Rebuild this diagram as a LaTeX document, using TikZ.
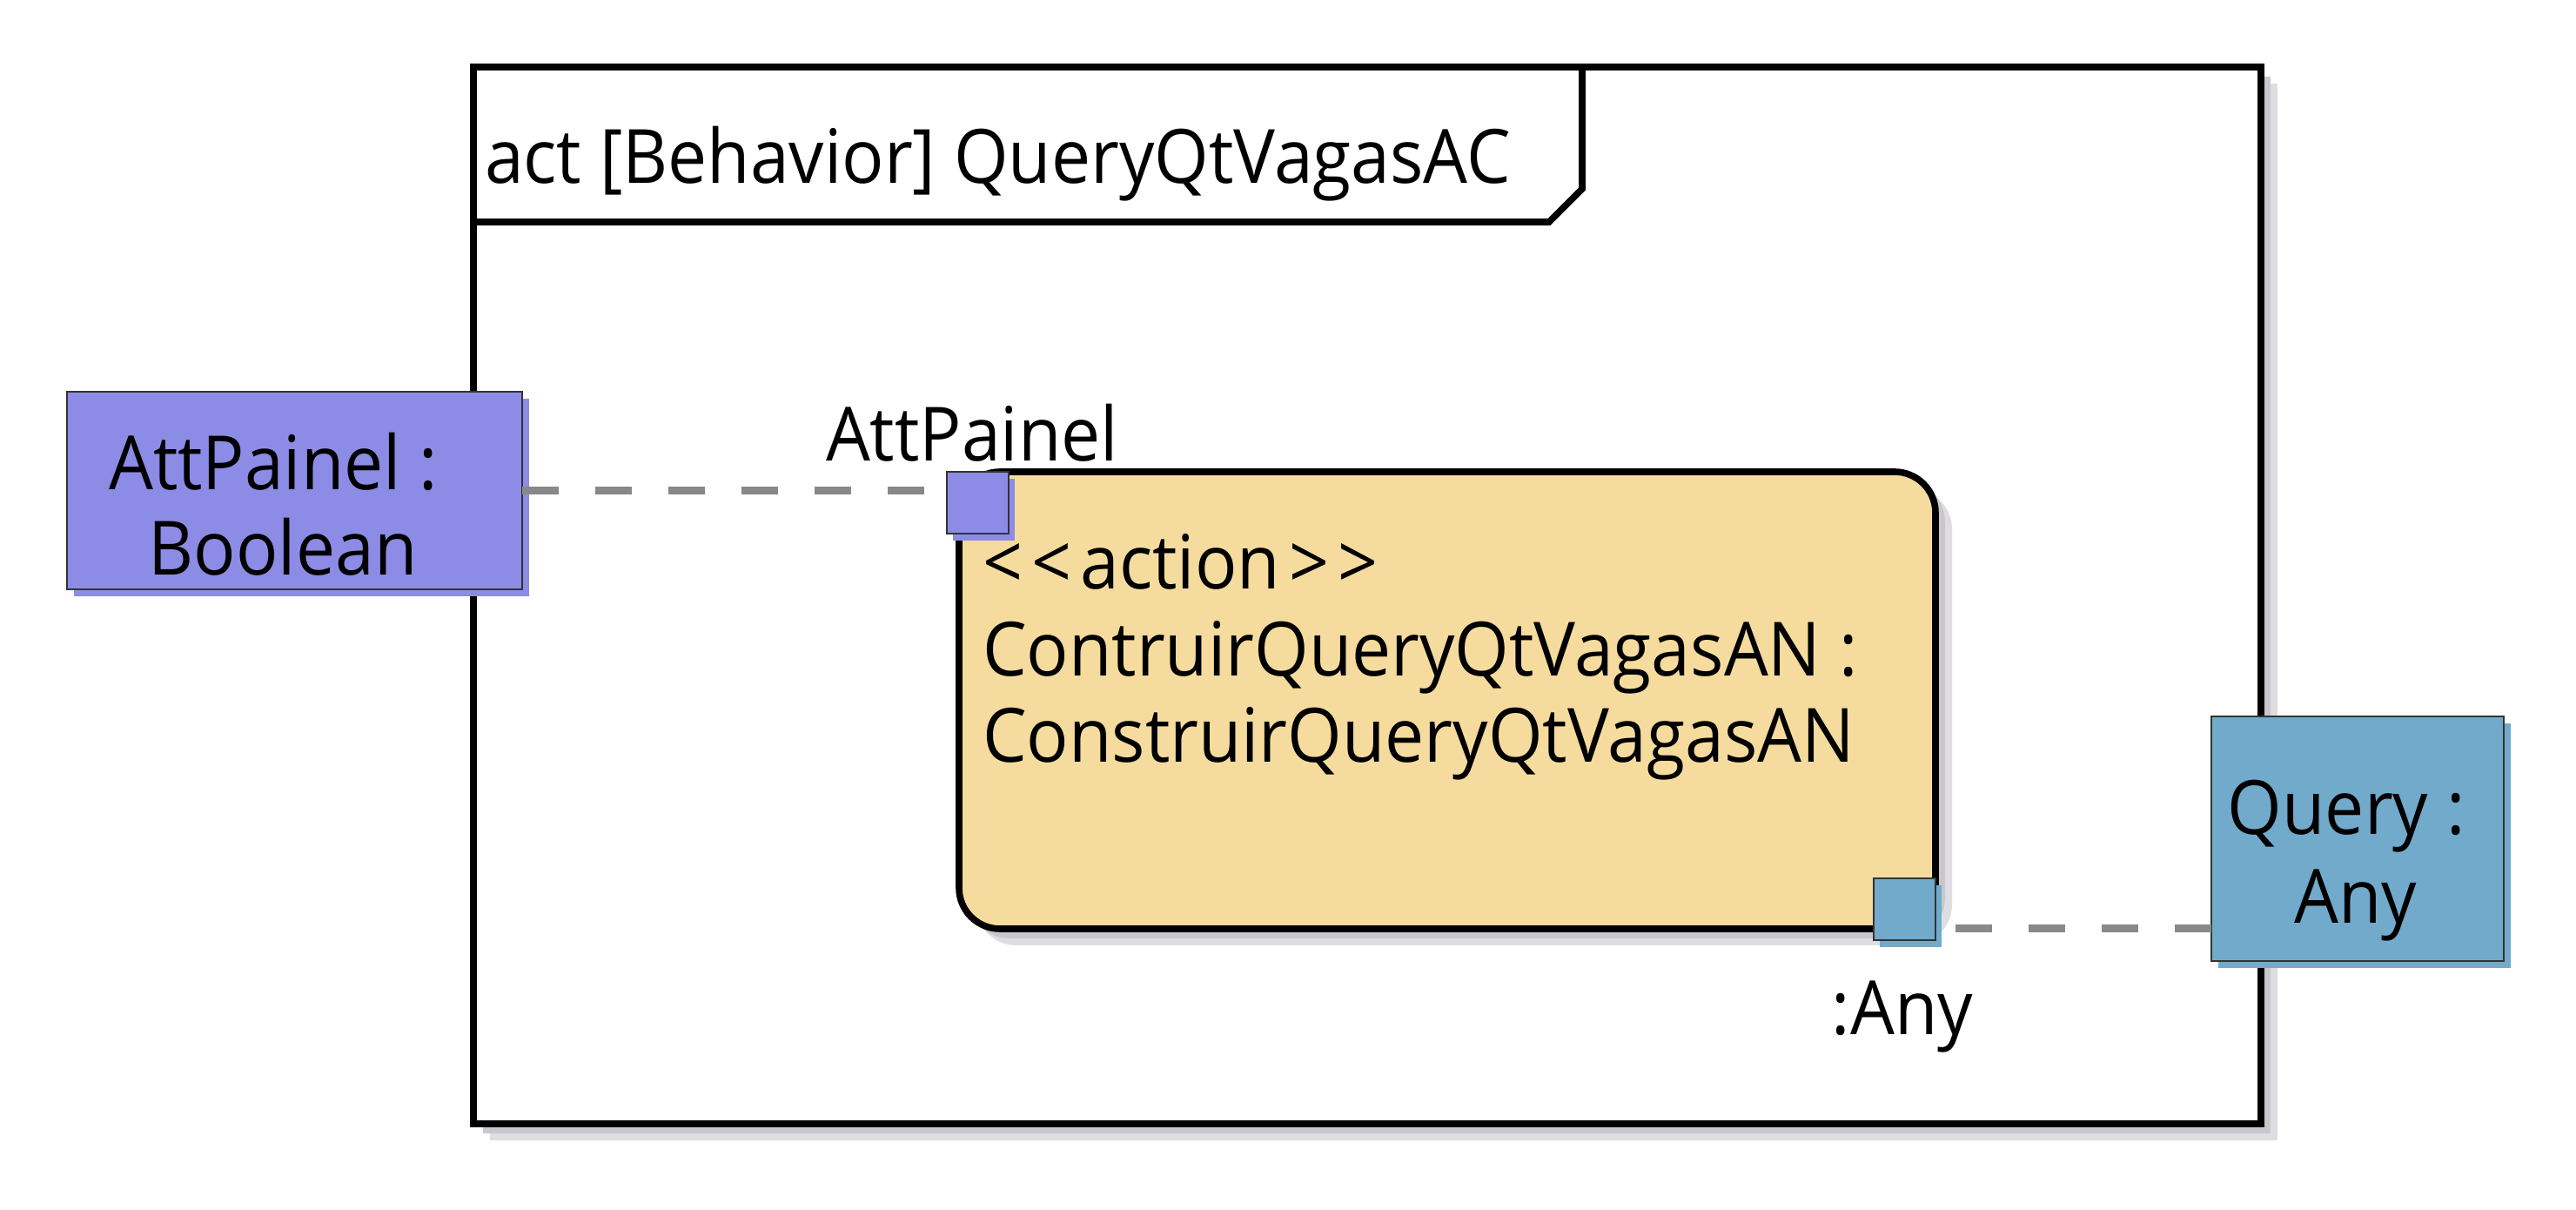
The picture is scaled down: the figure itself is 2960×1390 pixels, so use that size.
\documentclass[tikz,border=0pt]{standalone}
\usepackage{fontspec}
\setmainfont{Open Sans}[FakeStretch=0.935]
\usetikzlibrary{shadows}
\definecolor{pinpurple}{HTML}{8C8CE6}
\definecolor{pinblue}{HTML}{72AACB}
\definecolor{actfill}{HTML}{F5DC9E}
\definecolor{shadowdark}{HTML}{C9C7CD}
\definecolor{shadowlight}{HTML}{DFDDE1}
\definecolor{dashgray}{HTML}{888888}
\definecolor{edgedark}{HTML}{333333}
\newcommand\myLT{\char"3C\relax}
\newcommand\myGT{\char"3E\relax}
\tikzset{
  softshadow/.style={
    general shadow={shadow xshift=4.75pt, shadow yshift=-4.75pt, fill=shadowlight},
    general shadow={shadow xshift=2.75pt, shadow yshift=-2.75pt, fill=shadowdark}},
  framebox/.style={draw=black, line width=1.9pt, fill=white, inner sep=0pt, outer sep=0pt, softshadow},
  actionbox/.style={draw=black, line width=1.9pt, fill=actfill, rounded corners=11.75pt, inner sep=0pt, outer sep=0pt, softshadow},
  objbox/.style={draw=edgedark, line width=0.5pt, fill=#1, inner sep=0pt, outer sep=0pt,
    general shadow={shadow xshift=1.9pt, shadow yshift=-1.9pt, fill=#1}},
  pinbox/.style={objbox=#1, minimum width=17.75pt, minimum height=17.75pt},
  flow/.style={draw=dashgray, line width=2.25pt, dash pattern=on 10.5pt off 10.5pt},
  txt/.style={inner sep=0pt, outer sep=0pt},
}
\begin{document}
\begin{tikzpicture}[x=0.25pt, y=-0.25pt, font=\fontsize{21.5}{24.75}\selectfont]
\useasboundingbox (0,0) rectangle (2960,1390);

% frame
\node[framebox, minimum width=513.5pt, minimum height=303.5pt] (frame) at (1571,684) {};
\coordinate (tabR) at (1818,77);
\coordinate (tabB) at (1818,217);
\coordinate (tabD) at (1780,255);
\coordinate (tabL) at (544,255);
\draw[line width=1.9pt, line join=miter] (tabR) -- (tabB) -- (tabD) -- (tabL);
\node[txt, anchor=base west] (title) at (557,211) {act [Behavior] QueryQtVagasAC};

% action
\node[actionbox, minimum width=280.5pt, minimum height=131.25pt] (act) at (1663,804.5) {};
\node[txt, anchor=base west, align=left, font=\fontsize{21.5}{25}\selectfont] (acttext) at (1129,876)
  {\myLT\kern0.12em\myLT\kern0.12em action\kern0.12em\myGT\kern0.12em\myGT\\ContruirQueryQtVagasAN :\\ConstruirQueryQtVagasAN};

% object nodes
\node[objbox=pinpurple, minimum width=130.75pt, minimum height=56.75pt] (att) at (338.5,563.5) {};
\node[txt, anchor=base, align=center, font=\fontsize{21.5}{24.5}\selectfont] (atttext) at (325,661) {AttPainel :\kern0.25em\\Boolean};
\node[objbox=pinblue, minimum width=84pt, minimum height=70.25pt] (query) at (2709,963.5) {};
\node[txt, anchor=base, align=center, font=\fontsize{21.5}{25.5}\selectfont] (querytext) at (2707,1061) {Query :\kern0.25em\\Any};

% pins
\node[pinbox=pinpurple] (pinA) at (1123,578) {};
\node[pinbox=pinblue] (pinB) at (2188,1045) {};
\node[txt, anchor=base] (pinAlabel) at (1117,530) {AttPainel};
\node[txt, anchor=base] (pinBlabel) at (2186,1189) {:Any};

% flows
\draw[flow] (att.east) -- (att.east -| pinA.west);
\draw[flow] (query.west |- act.south) -- (pinB.east |- act.south);
\end{tikzpicture}
\end{document}
